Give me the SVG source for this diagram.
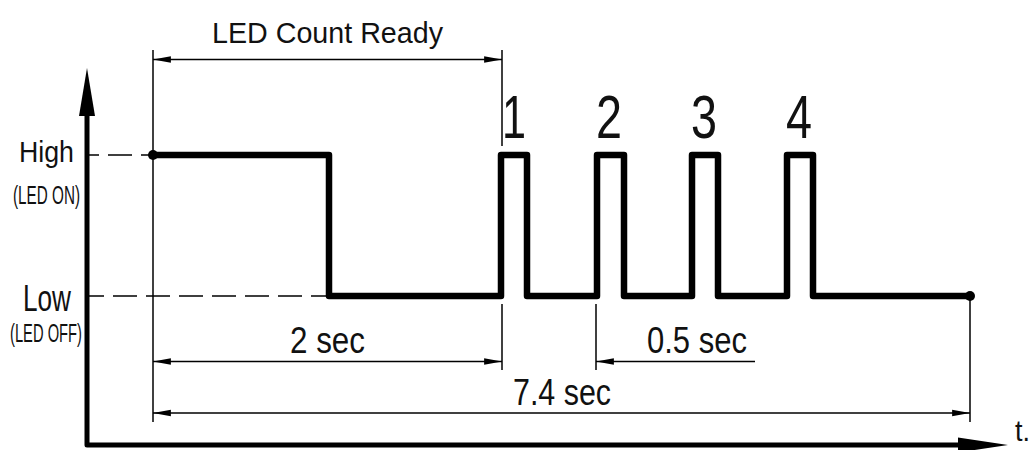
<svg xmlns="http://www.w3.org/2000/svg" width="1034" height="450" viewBox="0 0 1034 450">
  <defs>
    <marker id="dimArrow" markerUnits="userSpaceOnUse" markerWidth="20" markerHeight="10" viewBox="-18 -4 19 8" refX="0" refY="0" orient="auto-start-reverse">
      <path d="M0,0 L-17,-3.2 L-17,3.2 Z" fill="#000"/>
    </marker>
    <style>
      .t { font-family: "Liberation Sans Narrow", "Liberation Sans", "DejaVu Sans", sans-serif; fill: #111; }
      .thin { stroke: #000; stroke-width: 1.5; fill: none; }
      .dim { stroke: #000; stroke-width: 1.5; fill: none; }
      .dash { stroke: #000; stroke-width: 1.6; fill: none; stroke-dasharray: 24 9; }
      .wave { stroke: #000; stroke-width: 6.5; fill: none; stroke-linejoin: round; stroke-linecap: butt; }
      .axis { stroke: #000; stroke-width: 5; fill: none; stroke-linejoin: round; }
    </style>
  </defs>
  <rect width="1034" height="450" fill="#fff"/>

  <g id="axes">
    <path class="axis" d="M87,112 V445 H960"/>
    <polygon points="87,68 79,116 95,116" fill="#000"/>
    <polygon points="1008,445 958,437.5 958,452.5" fill="#000"/>
    <text class="t" x="1015" y="441" font-size="30" textLength="15" lengthAdjust="spacingAndGlyphs">t.</text>
  </g>

  <g id="levels">
    <line class="dash" x1="89" y1="155" x2="150" y2="155" stroke-dashoffset="14"/>
    <line class="dash" x1="89" y1="296" x2="328" y2="296" stroke-dashoffset="9"/>
    <text class="t" x="19" y="162" font-size="30" textLength="55" lengthAdjust="spacingAndGlyphs">High</text>
    <text class="t" x="13" y="204" font-size="26" textLength="67" lengthAdjust="spacingAndGlyphs">(LED ON)</text>
    <text class="t" x="23" y="311" font-size="36" textLength="48" lengthAdjust="spacingAndGlyphs">Low</text>
    <text class="t" x="10" y="342" font-size="26" textLength="72" lengthAdjust="spacingAndGlyphs">(LED OFF)</text>
  </g>

  <g id="connectors">
    <line class="thin" x1="153" y1="50" x2="153" y2="422"/>
    <line class="thin" x1="502" y1="50" x2="502" y2="146"/>
    <line class="thin" x1="502" y1="304" x2="502" y2="370"/>
    <line class="thin" x1="596" y1="304" x2="596" y2="370"/>
    <line class="thin" x1="970" y1="300" x2="970" y2="422"/>
    <line class="dim" x1="153" y1="59.5" x2="502" y2="59.5" marker-start="url(#dimArrow)" marker-end="url(#dimArrow)"/>
    <line class="dim" x1="153" y1="361.5" x2="502" y2="361.5" marker-start="url(#dimArrow)" marker-end="url(#dimArrow)"/>
    <line class="dim" x1="755" y1="361.5" x2="596" y2="361.5" marker-end="url(#dimArrow)"/>
    <line class="dim" x1="153" y1="413" x2="970" y2="413" marker-start="url(#dimArrow)" marker-end="url(#dimArrow)"/>
  </g>

  <g id="waveform">
    <path class="wave" d="M153,155 H329 V296 H501 V155 H527 V296 H597 V155 H624 V296 H692 V155 H718 V296 H787 V155 H813 V296 H970"/>
    <circle cx="153" cy="155" r="5" fill="#000"/>
    <circle cx="970" cy="296" r="5" fill="#000"/>
  </g>

  <g id="labels">
    <text class="t" x="212" y="43" font-size="30" textLength="231" lengthAdjust="spacingAndGlyphs">LED Count Ready</text>
    <text class="t" x="514" y="138" font-size="62" text-anchor="middle" textLength="24" lengthAdjust="spacingAndGlyphs">1</text>
    <text class="t" x="609" y="138" font-size="62" text-anchor="middle" textLength="26" lengthAdjust="spacingAndGlyphs">2</text>
    <text class="t" x="704" y="138" font-size="62" text-anchor="middle" textLength="26" lengthAdjust="spacingAndGlyphs">3</text>
    <text class="t" x="799" y="138" font-size="62" text-anchor="middle" textLength="26" lengthAdjust="spacingAndGlyphs">4</text>
    <text class="t" x="290" y="353" font-size="36" textLength="75" lengthAdjust="spacingAndGlyphs">2 sec</text>
    <text class="t" x="647" y="353" font-size="36" textLength="100" lengthAdjust="spacingAndGlyphs">0.5 sec</text>
    <text class="t" x="513" y="405" font-size="36" textLength="98" lengthAdjust="spacingAndGlyphs">7.4 sec</text>
  </g>
</svg>
